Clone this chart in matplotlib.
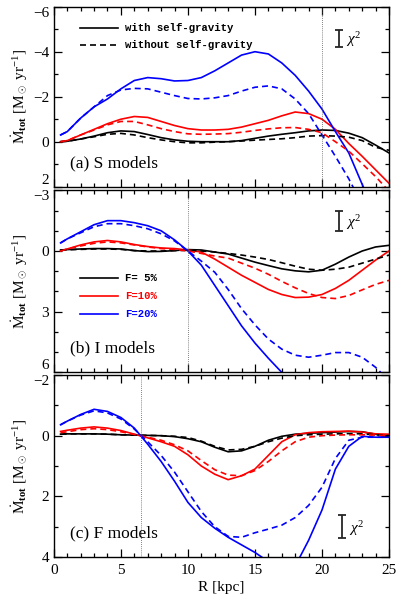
import numpy as np
import matplotlib
matplotlib.use("Agg")
import matplotlib.pyplot as plt
from matplotlib.ticker import MultipleLocator

plt.rcParams['font.family'] = ['Liberation Serif', 'DejaVu Serif']
plt.rcParams['mathtext.fontset'] = 'custom'
plt.rcParams['mathtext.rm'] = 'Liberation Serif'
plt.rcParams['mathtext.it'] = 'Liberation Serif:italic'
plt.rcParams['mathtext.bf'] = 'Liberation Serif:bold'

# ---- data ----
R = [0.5, 1, 2, 3, 4, 5, 6, 7, 8, 9, 10, 11, 12, 13, 14, 15, 16, 17, 18, 19, 20, 21, 22, 23, 24, 25]

# (a) S models
s_blue_sg = [-0.3, -0.45, -1.05, -1.55, -1.9, -2.35, -2.72, -2.85, -2.8, -2.7, -2.72, -2.85, -3.15, -3.5, -3.85, -4.0,
             -3.9, -3.5, -2.95, -2.25, -1.45, -0.45, 0.5, 1.9, 3.2, 4.5]
s_blue_nsg = [-0.3, -0.45, -1.05, -1.55, -2.05, -2.3, -2.37, -2.35, -2.2, -2.05, -1.92, -1.9, -1.95, -2.05, -2.25, -2.42,
              -2.48, -2.35, -1.9, -1.25, -0.3, 0.65, 1.65, 2.8, 4.0, 5.2]
s_red_sg = [0.0, -0.05, -0.3, -0.55, -0.8, -1.0, -1.12, -1.08, -0.9, -0.72, -0.58, -0.52, -0.52, -0.55, -0.65, -0.8,
            -0.95, -1.15, -1.32, -1.25, -1.0, -0.55, 0.08, 0.65, 1.25, 1.85]
s_red_nsg = [0.0, -0.05, -0.3, -0.52, -0.75, -0.9, -0.9, -0.75, -0.58, -0.45, -0.35, -0.33, -0.34, -0.36, -0.42, -0.5,
             -0.57, -0.62, -0.63, -0.55, -0.4, 0.0, 0.42, 0.98, 1.55, 2.2]
s_blk_sg = [0.0, -0.02, -0.12, -0.25, -0.4, -0.48, -0.45, -0.32, -0.18, -0.08, -0.02, 0.0, 0.0, 0.0, -0.05, -0.15,
            -0.25, -0.33, -0.4, -0.48, -0.52, -0.5, -0.38, -0.18, 0.15, 0.5]
s_blk_nsg = [0.0, -0.02, -0.12, -0.22, -0.33, -0.37, -0.3, -0.18, -0.08, 0.0, 0.05, 0.05, 0.02, 0.0, -0.03, -0.07,
             -0.1, -0.13, -0.18, -0.25, -0.27, -0.25, -0.2, -0.05, 0.25, 0.38]

# (b) I models
i_blue_sg = [-0.4, -0.6, -0.95, -1.3, -1.5, -1.5, -1.4, -1.25, -1.0, -0.55, 0.0, 0.7, 1.7, 2.7, 3.7, 4.55,
             5.3, 6.0, 6.6, 7.2, 7.8, 8.4, 9.0, 9.6, 10.2, 10.8]
i_blue_nsg = [-0.4, -0.6, -0.9, -1.2, -1.35, -1.35, -1.25, -1.1, -0.85, -0.5, 0.0, 0.5, 1.05, 1.9, 2.85, 3.65,
              4.35, 4.85, 5.15, 5.25, 5.15, 5.02, 5.02, 5.25, 5.75, 6.4]
i_red_sg = [0.0, -0.1, -0.3, -0.45, -0.52, -0.45, -0.32, -0.22, -0.15, -0.12, -0.05, 0.05, 0.4, 0.8, 1.2, 1.55,
            1.9, 2.15, 2.3, 2.28, 2.15, 1.85, 1.45, 0.95, 0.45, 0.0]
i_red_nsg = [0.0, -0.1, -0.25, -0.38, -0.45, -0.4, -0.3, -0.2, -0.12, -0.08, 0.0, 0.12, 0.25, 0.35, 0.6, 0.85,
             1.15, 1.5, 1.82, 2.1, 2.3, 2.35, 2.2, 1.92, 1.65, 1.45]
i_blk_sg = [-0.05, -0.07, -0.1, -0.12, -0.12, -0.1, -0.02, 0.03, 0.02, -0.02, -0.07, -0.05, 0.05, 0.15, 0.35, 0.55,
            0.72, 0.88, 0.98, 1.03, 0.95, 0.65, 0.3, 0.0, -0.2, -0.28]
i_blk_nsg = [-0.05, -0.06, -0.08, -0.1, -0.1, -0.08, -0.02, 0.0, 0.0, -0.02, -0.03, 0.0, 0.05, 0.12, 0.2, 0.3,
             0.42, 0.58, 0.75, 0.9, 0.95, 0.9, 0.8, 0.6, 0.4, 0.2]

# (c) F models
f_blue_sg = [-0.36, -0.48, -0.7, -0.87, -0.8, -0.6, -0.25, 0.28, 0.85, 1.5, 2.2, 2.7, 3.05, 3.35, 3.6, 3.85,
             4.15, 4.45, 4.3, 3.45, 2.45, 1.1, 0.35, 0.02, 0.05, 0.05]
f_blue_nsg = [-0.36, -0.48, -0.68, -0.82, -0.75, -0.55, -0.22, 0.2, 0.65, 1.2, 1.85, 2.5, 3.0, 3.32, 3.35, 3.2,
              3.08, 2.95, 2.7, 2.3, 1.7, 0.75, 0.15, 0.05, 0.05, 0.05]
f_red_sg = [-0.14, -0.18, -0.25, -0.29, -0.25, -0.17, -0.05, 0.07, 0.2, 0.35, 0.63, 1.0, 1.27, 1.45, 1.32, 1.1,
            0.65, 0.2, -0.03, -0.1, -0.13, -0.14, -0.15, -0.12, -0.06, -0.05]
f_red_nsg = [-0.1, -0.13, -0.2, -0.23, -0.2, -0.13, -0.04, 0.05, 0.15, 0.3, 0.5, 0.82, 1.12, 1.3, 1.32, 1.15,
             0.85, 0.5, 0.2, 0.05, 0.0, -0.02, -0.03, -0.03, -0.02, 0.0]
f_blk_sg = [-0.05, -0.06, -0.06, -0.06, -0.05, -0.03, -0.02, -0.01, 0.0, 0.03, 0.1, 0.2, 0.38, 0.53, 0.5, 0.35,
            0.15, 0.02, -0.05, -0.08, -0.1, -0.12, -0.14, -0.13, -0.05, 0.0]
f_blk_nsg = [-0.05, -0.06, -0.06, -0.06, -0.05, -0.03, -0.02, -0.01, 0.0, 0.02, 0.06, 0.18, 0.35, 0.47, 0.45, 0.35,
             0.2, 0.08, 0.0, -0.03, -0.05, -0.06, -0.07, -0.06, -0.03, 0.0]

panels = [
    dict(lab="(a) S models", ylim=(2, -6), rcrit=20.0, chi=(21.3, -4.58, 0.38),
         sg=[s_blk_sg, s_red_sg, s_blue_sg], nsg=[s_blk_nsg, s_red_nsg, s_blue_nsg], ticks=[-6, -4, -2, 0, 2]),
    dict(lab="(b) I models", ylim=(6, -3), rcrit=10.0, chi=(21.3, -1.49, 0.5),
         sg=[i_blk_sg, i_red_sg, i_blue_sg], nsg=[i_blk_nsg, i_red_nsg, i_blue_nsg], ticks=[-3, 0, 3, 6]),
    dict(lab="(c) F models", ylim=(4, -2), rcrit=6.5, chi=(21.5, 3.0, 0.385),
         sg=[f_blk_sg, f_red_sg, f_blue_sg], nsg=[f_blk_nsg, f_red_nsg, f_blue_nsg], ticks=[-2, 0, 2, 4]),
]
colors = ['black', 'red', 'blue']
flabels = ['F= 5%', 'F=10%', 'F=20%']

fig = plt.figure(figsize=(3.99, 5.99), dpi=100)
rects = [[0.135, 0.6883, 0.84, 0.3005],
         [0.135, 0.3783, 0.84, 0.304],
         [0.135, 0.0701, 0.84, 0.3038]]

ylabel = r'$\dot{\mathrm{M}}_{\mathbf{tot}}$ [M$_\odot$ yr$^{-1}$]'
legfont = dict(family='Liberation Mono', weight='bold', fontsize=7.7)

for k, p in enumerate(panels):
    ax = fig.add_axes(rects[k])
    for c, ys in zip(colors, p['sg']):
        ax.plot(R, ys, color=c, lw=1.2, solid_joinstyle='round')
    for c, ys in zip(colors, p['nsg']):
        ax.plot(R, ys, color=c, lw=1.2, linestyle=(0, (3.6, 2.4)))
    ax.axvline(p['rcrit'], color='0.35', lw=0.6, linestyle=(0, (1, 1.5)))
    xc, yc, h = p['chi']
    ax.errorbar([xc], [yc], yerr=[h], fmt='none', ecolor='0.15', elinewidth=1.3, capsize=3, capthick=1.3)
    ax.text(xc + 0.5, yc + h * 0.15, r'$\chi^2$', fontsize=11, ha='left', va='center')
    ax.set_xlim(0, 25)
    ax.set_ylim(*p['ylim'])
    ax.set_yticks(p['ticks'])
    ax.yaxis.set_minor_locator(MultipleLocator(1))
    ax.xaxis.set_major_locator(MultipleLocator(5))
    ax.xaxis.set_minor_locator(MultipleLocator(1))
    ax.tick_params(which='both', direction='in', top=True, right=True, labelsize=11, width=0.9)
    ax.tick_params(which='major', length=6)
    ax.tick_params(which='minor', length=3)
    ax.tick_params(axis='x', pad=5)
    for s in ax.spines.values():
        s.set_linewidth(1.0)
    # nudge end labels inward so neighbouring panels do not collide
    ylabs = ax.get_yticklabels()
    ylabs[0].set_va('top')
    if k < 2:
        ylabs[-1].set_va('bottom')
    ax.text(0.048, 0.13, p['lab'], transform=ax.transAxes, fontsize=12.5, va='center')
    ax.set_ylabel(ylabel, fontsize=11, labelpad=3)
    if k < 2:
        ax.set_xticklabels([])
    else:
        ax.set_xlabel('R [kpc]', fontsize=11, labelpad=3)
    if k == 0:
        ax.plot([0.078, 0.191], [0.883, 0.883], transform=ax.transAxes, color='black', lw=1.2)
        ax.plot([0.078, 0.191], [0.787, 0.787], transform=ax.transAxes, color='black', lw=1.2,
                linestyle=(0, (3.6, 2.4)))
        ax.text(0.212, 0.883, 'with self-gravity', transform=ax.transAxes, va='center', **legfont)
        ax.text(0.212, 0.787, 'without self-gravity', transform=ax.transAxes, va='center', **legfont)
    if k == 1:
        for c, lab, yy in zip(colors, flabels, [0.516, 0.419, 0.320]):
            ax.plot([0.078, 0.191], [yy, yy], transform=ax.transAxes, color=c, lw=1.2)
            ax.text(0.212, yy, lab, transform=ax.transAxes, va='center', color=c, **legfont)

fig.savefig('out.png', dpi=100)
